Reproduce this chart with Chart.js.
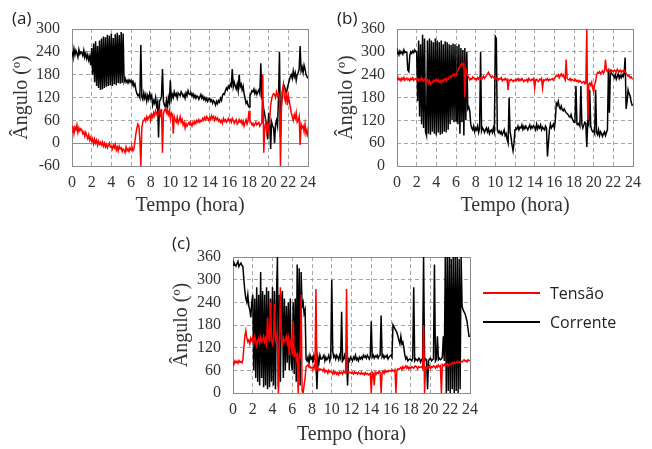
<!DOCTYPE html>
<html>
<head>
<meta charset="utf-8">
<script src="https://cdn.jsdelivr.net/npm/chart.js@4.4.1/dist/chart.umd.min.js"></script>
<style>
  body { margin: 0; background: #fff; width: 652px; height: 449px; position: relative; overflow: hidden; }
  .panel { position: absolute; }
  .tag { position: absolute; font-family: "Open Sans", sans-serif; font-size: 17px; line-height: 22px; color: #222; }
  .key { position: absolute; height: 2px; width: 57px; }
  .keytext { position: absolute; font-family: "Open Sans", sans-serif; font-size: 16px; line-height: 22px; color: #222; }
</style>
</head>
<body>
<div class="panel" style="left:0;top:0;width:325px;height:220px"><canvas id="chartA"></canvas></div>
<div class="panel" style="left:325px;top:0;width:327px;height:220px"><canvas id="chartB"></canvas></div>
<div class="panel" style="left:160px;top:225px;width:330px;height:224px"><canvas id="chartC"></canvas></div>

<div class="tag" style="left:12px;top:7px">(a)</div>
<div class="tag" style="left:337px;top:7px">(b)</div>
<div class="tag" style="left:172px;top:232px">(c)</div>

<div class="key" style="left:483px;top:292px;background:#ff0000"></div>
<div class="keytext" style="left:550px;top:282px">Tensão</div>
<div class="key" style="left:483px;top:321px;background:#000"></div>
<div class="keytext" style="left:550px;top:311px">Corrente</div>

<script>
// time grid: one sample every 0.1 h, one row per hour below
const HOURS = Array.from({ length: 241 }, (_, i) => i / 10);
const X_TICKS = [0, 24, 2];

// (a)
const aTensao = [
  30, 45, 25, 42, 35, 48, 28, 40, 32, 38,
  35, 25, 30, 18, 28, 20, 12, 22, 8, 15,
  5, 12, -2, 10, 0, 8, -5, 5, -3, 2,
  -5, 3, -8, 0, -10, -3, -12, -5, 0, -10,
  -8, -15, -5, -12, -3, -18, -10, -20, -8, -15,
  -12, -22, -15, -18, -25, -10, -20, -15, -22, -12,
  -18, -10, -20, -15, 5, 25, 40, 50, 45, 10,
  -60, 40, 55, 60, 65, 58, 70, 62, 68, 72,
  60, 75, 68, 80, 72, 85, 78, 70, 82, 88,
  75, 90, -25, 78, 85, 92, 80, 88, 75, 85,
  65, 80, 75, 25, 70, 60, 55, 68, 52, 60,
  70, 55, 62, 48, 55, 40, 52, 45, 50, 55,
  48, 52, 45, 55, 50, 58, 52, 60, 55, 62,
  55, 60, 58, 65, 60, 68, 62, 70, 65, 60,
  68, 62, 72, 65, 70, 60, 68, 62, 66, 58,
  62, 55, 60, 52, 65, 58, 62, 55, 60, 65,
  58, 62, 55, 65, 60, 52, 58, 62, 50, 55,
  62, 55, 60, 50, 58, 45, 55, 62, 50, 58,
  85, 60, 55, 48, 52, 45, 50, 55, 48, 52,
  55, 45, 50, 52, 180, -25, 40, 55, 30, 50,
  35, 60, 100, 115, 125, 130, 128, 120, 135, 125,
  130, 120, -60, 95, 140, 155, 120, 110, 135, 100,
  125, 110, 95, 80, 70, 60, 75, 65, 80, 55,
  60, 70, -5, 50, 40, 45, 30, 50, 25, 35,
  15
];
const aCorrente = [
  240, 228, 248, 232, 244, 236, 226, 246, 234, 240,
  238, 230, 244, 226, 236, 222, 232, 218, 228, 205,
  250, 180, 262, 160, 268, 150, 255, 145, 270, 140,
  275, 142, 280, 145, 278, 148, 285, 150, 282, 152,
  288, 150, 276, 155, 286, 152, 290, 158, 284, 156,
  292, 158, 288, 162, 170, 160, 165, 158, 166, 160,
  165, 158, 162, 150, 156, 140, 130, 125, 128, 120,
  258, 122, 115, 132, 118, 128, 110, 125, 115, 130,
  118, 125, 100, 112, 105, 120, 98, 108, 15, 110,
  115, 122, 195, 110, 100, 95, 112, 90, 120, 108,
  165, 115, 128, 120, 135, 125, 130, 118, 132, 128,
  125, 135, 130, 122, 128, 118, 132, 125, 138, 130,
  128, 132, 124, 130, 120, 126, 118, 124, 122, 115,
  122, 128, 118, 124, 115, 120, 112, 118, 110, 116,
  118, 110, 114, 105, 112, 108, 100, 110, 104, 112,
  108, 118, 112, 125, 130, 128, 138, 145, 140, 150,
  145, 155, 150, 195, 148, 160, 150, 142, 155, 138,
  180, 148, 155, 140, 150, 130, 118, 105, 110, 100,
  95, 125, 130, 138, 135, 142, 130, 138, 128, 135,
  140, 130, 210, 120, 110, 90, 75, 60, 50, 10,
  80, 60, -15, 55, 45, 40, 0, 50, 60, 45,
  120, 240, 15, 100, 135, 145, 150, 140, 130, 145,
  155, 165, 175, 180, 170, 190, 175, 185, 165, 180,
  185, 195, 255, 190, 200, 185, 205, 195, 180, 175,
  170
];
const aYTicks = [-60, 300, 60];

// (b)
const bTensao = [
  228, 232, 226, 230, 224, 231, 227, 233, 225, 229,
  231, 226, 229, 224, 230, 227, 232, 225, 228, 230,
  226, 230, 224, 228, 225, 232, 227, 223, 229, 226,
  222, 226, 218, 224, 215, 220, 218, 225, 222, 226,
  228, 222, 226, 220, 224, 218, 226, 222, 228, 230,
  224, 230, 228, 234, 236, 232, 238, 240, 236, 242,
  240, 245, 252, 258, 262, 266, 270, 264, 268, 180,
  255, 245, 238, 232, 226, 230, 228, 234, 232, 228,
  230, 226, 232, 228, 234, 230, 226, 232, 236, 230,
  234, 238, 242, 246, 240, 236, 232, 236, 234, 230,
  235, 230, 232, 226, 230, 228, 232, 224, 228, 226,
  230, 226, 228, 200, 226, 224, 228, 225, 222, 226,
  224, 228, 226, 230, 224, 228, 225, 230, 226, 222,
  226, 224, 228, 222, 230, 226, 224, 228, 226, 230,
  205, 226, 228, 224, 222, 228, 226, 230, 205, 226,
  224, 228, 226, 230, 224, 228, 226, 228, 230, 226,
  230, 234, 238, 236, 240, 232, 238, 242, 236, 240,
  232, 226, 280, 230, 228, 226, 230, 224, 228, 226,
  224, 228, 226, 222, 225, 220, 224, 222, 218, 220,
  222, 216, 218, 360, 120, 214, 218, 212, 220, 205,
  195, 215, 222, 240, 246, 244, 248, 242, 246, 250,
  244, 248, 280, 252, 248, 254, 250, 246, 252, 250,
  248, 252, 250, 246, 254, 250, 248, 252, 246, 250,
  248, 252, 246, 244, 240, 236, 238, 232, 234, 230,
  228
];
const bCorrente = [
  295, 300, 292, 302, 296, 300, 294, 305, 298, 300,
  298, 252, 248, 290, 300, 296, 302, 298, 305, 300,
  300, 170, 330, 130, 320, 110, 345, 100, 335, 90,
  80, 330, 85, 335, 82, 330, 90, 325, 85, 335,
  80, 330, 88, 325, 82, 330, 85, 320, 90, 328,
  88, 325, 95, 320, 110, 318, 120, 322, 115, 320,
  118, 315, 110, 320, 85, 310, 115, 305, 80, 310,
  120, 300, 150, 155, 145, 110, 100, 95, 105, 90,
  100, 95, 105, 88, 98, 300, 92, 100, 95, 88,
  95, 100, 90, 98, 85, 92, 95, 88, 100, 90,
  340, 335, 95, 88, 92, 85, 90, 82, 88, 95,
  80, 85, 70, 60, 180, 90, 75, 55, 40, 60,
  95, 100, 98, 105, 95, 102, 100, 108, 96, 104,
  98, 105, 100, 95, 102, 108, 98, 104, 100, 106,
  102, 95, 110, 98, 105, 100, 108, 95, 102, 98,
  95, 105, 100, 25, 60, 95, 110, 100, 105, 110,
  100, 120, 165, 160, 170, 155, 150, 158, 148, 145,
  150, 145, 140, 138, 135, 130, 128, 135, 125, 120,
  115, 125, 210, 110, 108, 112, 105, 210, 110, 100,
  108, 115, 112, 50, 118, 110, 200, 105, 95, 90,
  92, 85, 200, 88, 82, 95, 80, 90, 85, 78,
  85, 90, 80, 88, 95, 250, 140, 250, 245, 240,
  238, 232, 240, 228, 235, 242, 230, 238, 232, 240,
  235, 245, 285, 150, 170, 200, 190, 185, 170, 160,
  160
];
const bYTicks = [0, 360, 60];

// (c)
const cTensao = [
  82, 78, 85, 80, 84, 79, 86, 81, 83, 80,
  88, 120, 150, 165, 145, 135, 140, 130, 145, 138,
  145, 130, 150, 140, 125, 138, 145, 132, 148, 135,
  140, 150, 135, 145, 130, 200, 150, 135, 240, 140,
  130, 145, 235, 140, 150, 135, 0, 145, 280, 140,
  130, 145, 135, 140, 150, 130, 145, 100, 140, 135,
  100, 190, 95, 110, 90, 105, 0, 100, 95, 260,
  5, 0, 20, 40, 70, 72, 75, 68, 70, 66,
  68, 65, 72, 64, 275, 62, 66, 60, 64, 62,
  62, 58, 64, 55, 60, 58, 52, 60, 55, 58,
  55, 50, 58, 52, 56, 50, 54, 48, 55, 52,
  55, 50, 58, 54, 52, 275, 56, 52, 55, 54,
  52, 55, 50, 56, 52, 54, 50, 55, 52, 50,
  55, 50, 52, 48, 54, 50, 52, 48, 50, 52,
  0, 55, 52, 20, 55, 50, 55, 52, 58, 55,
  0, 55, 58, 52, 60, 55, 58, 56, 60, 58,
  58, 62, 60, 58, 62, 0, 60, 64, 62, 65,
  68, 62, 70, 65, 68, 72, 66, 70, 64, 68,
  65, 70, 68, 66, 70, 72, 68, 64, 70, 68,
  68, 70, 65, 180, 0, 68, 65, 70, 66, 72,
  65, 70, 68, 72, 70, 66, 72, 68, 74, 70,
  72, 0, 75, 72, 76, 70, 74, 78, 72, 76,
  75, 78, 80, 76, 82, 78, 80, 84, 80, 82,
  80, 84, 82, 85, 88, 84, 86, 82, 88, 86,
  85
];
const cCorrente = [
  338, 345, 340, 336, 342, 348, 335, 340, 344, 338,
  335, 300, 270, 250, 240, 260, 230, 220, 200, 240,
  260, 60, 250, 40, 280, 30, 260, 20, 320, 40,
  270, 15, 260, 20, 280, 10, 270, 15, 250, 30,
  280, 20, 270, 10, 250, 360, 15, 260, 30, 240,
  270, 40, 250, 60, 230, 80, 240, 60, 250, 80,
  60, 240, 50, 250, 30, 340, 80, 330, 20, 320,
  230, 240, 210, 220, 90, 85, 95, 80, 100, 90,
  95, 80, 100, 90, 85, 10, 95, 80, 100, 90,
  90, 95, 100, 85, 95, 88, 92, 100, 85, 95,
  300, 110, 95, 100, 90, 100, 95, 88, 100, 92,
  215, 85, 90, 100, 88, 95, 20, 90, 85, 95,
  90, 85, 95, 90, 100, 88, 92, 85, 95, 90,
  95, 90, 100, 95, 98, 92, 100, 95, 90, 98,
  190, 95, 100, 92, 98, 95, 100, 92, 98, 100,
  205, 95, 100, 92, 98, 95, 100, 90, 95, 98,
  100, 95, 180, 175, 170, 165, 160, 150, 140, 130,
  150, 130, 135, 120, 100, 90, 95, 85, 88, 90,
  88, 85, 92, 280, 85, 90, 88, 85, 92, 90,
  82, 88, 92, 360, 85, 90, 88, 10, 85, 90,
  92, 85, 88, 90, 340, 85, 90, 150, 88, 92,
  88, 90, 95, 150, 85, 360, 0, 360, 5, 360,
  0, 355, 10, 360, 0, 360, 5, 360, 0, 355,
  10, 360, 230, 220, 215, 210, 200, 190, 170, 150,
  150
];
const cYTicks = [0, 360, 60];

const SERIF = '"Liberation Serif", "Times New Roman", serif';
const GRID = '#a6a6a6';
const FRAME = '#8c8c8c';

// plot frame and solid zero line
const framePlugin = {
  id: 'frame',
  beforeDatasetsDraw(chart) {
    const { ctx, chartArea: a, scales } = chart;
    ctx.save();
    ctx.strokeStyle = FRAME;
    ctx.lineWidth = 1;
    ctx.setLineDash([]);
    if (scales.y.min < 0) {
      const y0 = Math.round(scales.y.getPixelForValue(0)) + 0.5;
      ctx.beginPath();
      ctx.moveTo(a.left, y0);
      ctx.lineTo(a.right, y0);
      ctx.stroke();
    }
    ctx.strokeRect(Math.round(a.left) + 0.5, Math.round(a.top) + 0.5,
      Math.round(a.right - a.left), Math.round(a.bottom - a.top));
    ctx.restore();
  }
};

function makeChart(id, tensao, corrente, yTicks, box) {
  const ctx = document.getElementById(id).getContext('2d');
  return new Chart(ctx, {
    type: 'line',
    data: {
      labels: HOURS,
      datasets: [
        { label: 'Tensão', data: tensao, borderColor: '#ff0000', borderWidth: 1.5,
          pointRadius: 0, tension: 0, fill: false },
        { label: 'Corrente', data: corrente, borderColor: '#000000', borderWidth: 1.5,
          pointRadius: 0, tension: 0, fill: false }
      ]
    },
    options: {
      responsive: true,
      maintainAspectRatio: false,
      animation: false,
      events: [],
      layout: { padding: { top: box.top, right: box.right, bottom: 0, left: 0 } },
      plugins: { legend: { display: false }, tooltip: { enabled: false } },
      scales: {
        x: {
          type: 'linear',
          min: X_TICKS[0], max: X_TICKS[1],
          afterFit: s => { s.height = box.xh; },
          ticks: { stepSize: X_TICKS[2], autoSkip: false, maxRotation: 0, padding: 7,
            color: '#333', font: { family: SERIF, size: 16 } },
          grid: { color: GRID, drawTicks: false },
          border: { display: false, dash: [4, 3] },
          title: { display: true, text: 'Tempo (hora)', color: '#333',
            font: { family: SERIF, size: 20 }, padding: { top: 0, bottom: 2 } }
        },
        y: {
          min: yTicks[0], max: yTicks[1],
          afterFit: s => { s.width = box.yw; },
          ticks: { stepSize: yTicks[2], padding: 12, color: '#333', font: { family: SERIF, size: 16 } },
          grid: { color: GRID, drawTicks: false },
          border: { display: false, dash: [4, 3] },
          title: { display: true, text: 'Ângulo (º)', color: '#333',
            font: { family: SERIF, size: 20 }, padding: { top: 10, bottom: 0 } }
        }
      }
    },
    plugins: [framePlugin]
  });
}

makeChart('chartA', aTensao, aCorrente, aYTicks, { top: 29, right: 17, xh: 54, yw: 72 });
makeChart('chartB', bTensao, bCorrente, bYTicks, { top: 29, right: 19, xh: 54, yw: 72 });
makeChart('chartC', cTensao, cCorrente, cYTicks, { top: 32, right: 20, xh: 56, yw: 73 });
</script>
</body>
</html>
